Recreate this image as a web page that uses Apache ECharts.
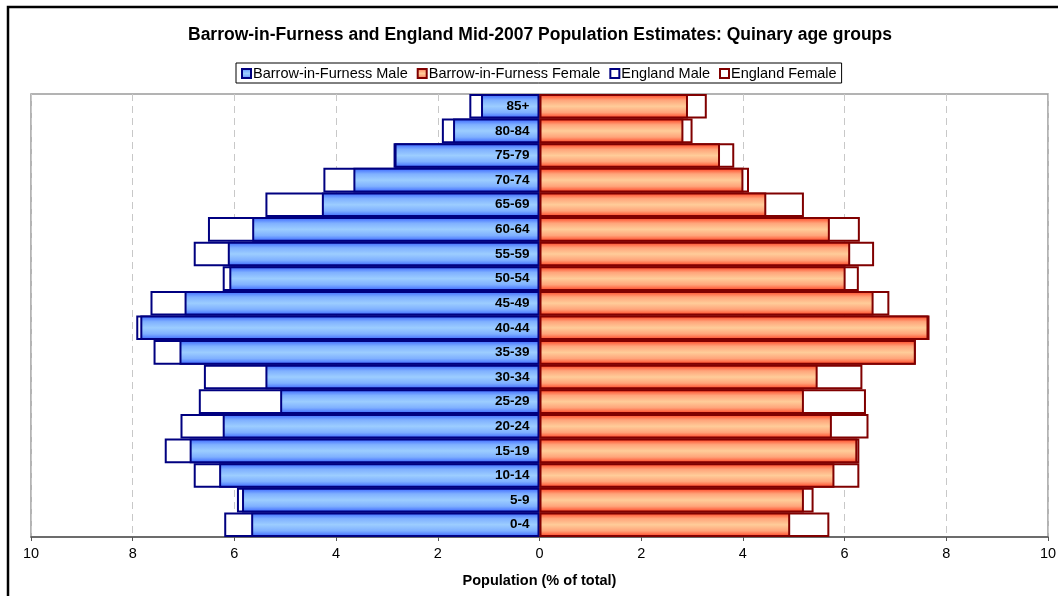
<!DOCTYPE html>
<html>
<head>
<meta charset="utf-8">
<title>Barrow-in-Furness and England Mid-2007 Population Estimates</title>
<script src="https://cdn.jsdelivr.net/npm/echarts@6/dist/echarts.min.js"></script>
<style>
  html, body { margin: 0; padding: 0; background: #fff; }
  #chart { width: 1058px; height: 596px; }
</style>
</head>
<body>
<div id="chart"></div>
<script>
// Quinary age groups, youngest at the bottom of the pyramid
const ageGroups = ['0-4', '5-9', '10-14', '15-19', '20-24', '25-29', '30-34', '35-39', '40-44',
  '45-49', '50-54', '55-59', '60-64', '65-69', '70-74', '75-79', '80-84', '85+'];

// Share of total population (%)
const barrowMale   = [5.67, 5.85, 6.30, 6.88, 6.23, 5.10, 5.39, 7.08, 7.85, 6.98, 6.10, 6.13, 5.65, 4.28, 3.66, 2.85, 1.70, 1.15];
const barrowFemale = [4.93, 5.20, 5.80, 6.25, 5.75, 5.20, 5.47, 7.40, 7.65, 6.57, 6.02, 6.11, 5.71, 4.46, 4.01, 3.55, 2.83, 2.92];
const englandMale  = [6.20, 5.95, 6.80, 7.37, 7.06, 6.70, 6.60, 7.59, 7.93, 7.65, 6.23, 6.80, 6.52, 5.39, 4.25, 2.87, 1.92, 1.38];
const englandFemale= [5.70, 5.39, 6.29, 6.29, 6.47, 6.42, 6.35, 7.40, 7.67, 6.88, 6.28, 6.58, 6.30, 5.20, 4.12, 3.83, 3.01, 3.29];

const xTicks = { min: -10, max: 10, step: 2 };

const neg = arr => arr.map(v => -v);

const blueFill = new echarts.graphic.LinearGradient(0, 0, 0, 1, [
  { offset: 0, color: '#3560ff' },
  { offset: 0.25, color: '#7fb0ff' },
  { offset: 0.5, color: '#9ccdff' },
  { offset: 0.75, color: '#7fb0ff' },
  { offset: 1, color: '#3560ff' }
]);
const redFill = new echarts.graphic.LinearGradient(0, 0, 0, 1, [
  { offset: 0, color: '#ff3a1c' },
  { offset: 0.25, color: '#ffa47a' },
  { offset: 0.5, color: '#ffcc99' },
  { offset: 0.75, color: '#ffa47a' },
  { offset: 1, color: '#ff3a1c' }
]);

const NAVY = '#000080';
const MAROON = '#800000';

const chart = echarts.init(document.getElementById('chart'), null, { renderer: 'canvas' });

chart.setOption({
  animation: false,
  textStyle: { fontFamily: 'Liberation Sans, Arial, sans-serif' },
  title: {
    text: 'Barrow-in-Furness and England Mid-2007 Population Estimates: Quinary age groups',
    left: 183,
    top: 21,
    textStyle: { fontSize: 17.5, fontWeight: 'bold', color: '#000' }
  },
  legend: {
    top: 63,
    left: 236,
    data: ['Barrow-in-Furness Male', 'Barrow-in-Furness Female', 'England Male', 'England Female'],
    icon: 'rect',
    itemWidth: 9,
    itemHeight: 9,
    itemGap: 9,
    padding: [3, 5, 2, 5],
    borderColor: '#000',
    borderWidth: 1,
    borderRadius: 0,
    textStyle: { fontSize: 14.5, color: '#000', padding: [0, 0, 0, -3] }
  },
  graphic: [{
    type: 'rect',
    shape: { x: 8, y: 7, width: 1100, height: 700 },
    style: { fill: 'none', stroke: '#000', lineWidth: 2.5 },
    silent: true,
    z: 100
  }],
  grid: {
    left: 31, right: 10, top: 94, bottom: 59,
    outerBoundsMode: 'none',
    containLabel: false,
    show: true, borderColor: '#9a9a9a', borderWidth: 1.5, backgroundColor: 'transparent'
  },
  xAxis: {
    type: 'value',
    min: xTicks.min,
    max: xTicks.max,
    interval: xTicks.step,
    name: 'Population (% of total)',
    nameLocation: 'middle',
    nameGap: 36,
    nameTextStyle: { fontSize: 14.5, fontWeight: 'bold', color: '#000' },
    axisLine: { show: true, onZero: false, lineStyle: { color: '#555', width: 1.5 } },
    axisTick: { show: true, length: 4, lineStyle: { color: '#555' } },
    axisLabel: { fontSize: 14.5, color: '#000', margin: 9, formatter: v => String(Math.abs(v)) },
    splitLine: { show: true, lineStyle: { color: '#c8c8c8', type: [7, 5], width: 1 } }
  },
  yAxis: {
    type: 'category',
    data: ageGroups,
    axisLine: { show: false },
    axisTick: { show: false },
    axisLabel: { show: false },
    splitLine: { show: false }
  },
  series: [
    {
      name: 'England Male', type: 'bar', data: neg(englandMale),
      barGap: '-100%', barCategoryGap: '0%',
      itemStyle: { color: '#fff', borderColor: NAVY, borderWidth: 2 }
    },
    {
      name: 'England Female', type: 'bar', data: englandFemale,
      barGap: '-100%', barCategoryGap: '0%',
      itemStyle: { color: '#fff', borderColor: MAROON, borderWidth: 2 }
    },
    {
      name: 'Barrow-in-Furness Male', type: 'bar', data: neg(barrowMale),
      barGap: '-100%', barCategoryGap: '0%',
      itemStyle: { color: blueFill, borderColor: NAVY, borderWidth: 2 },
      // age group names sit just left of the centre line
      label: {
        show: true,
        position: 'insideRight',
        distance: 10,
        formatter: '{b}',
        fontSize: 13.5,
        fontWeight: 'bold',
        color: '#000'
      }
    },
    {
      name: 'Barrow-in-Furness Female', type: 'bar', data: barrowFemale,
      barGap: '-100%', barCategoryGap: '0%',
      itemStyle: { color: redFill, borderColor: MAROON, borderWidth: 2 }
    }
  ]
});
</script>
</body>
</html>
